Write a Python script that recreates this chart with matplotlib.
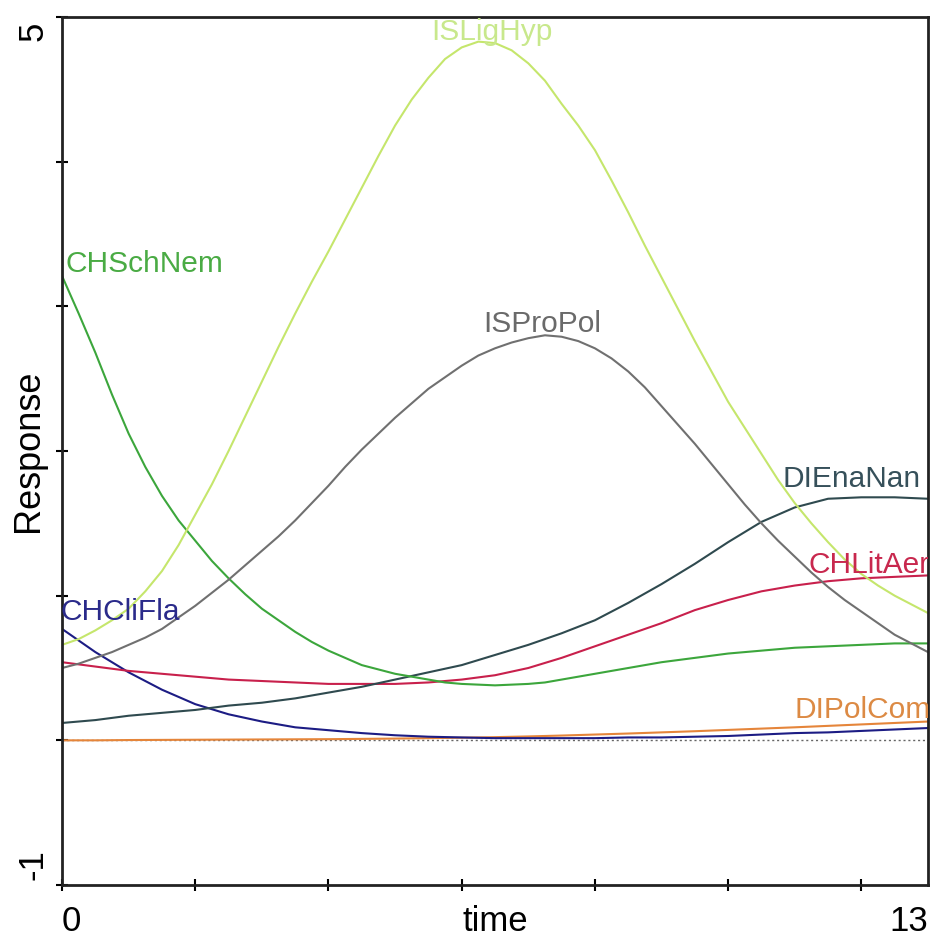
import matplotlib.pyplot as plt
import numpy as np

plt.rcParams['font.family'] = ['Liberation Sans', 'DejaVu Sans']

# time axes: quarter steps for the strongly curved responses, half steps for the rest
t_fine = np.arange(0, 13.001, 0.25)
t_half = np.arange(0, 13.001, 0.5)

ISLigHyp = [0.66, 0.70, 0.76, 0.83, 0.91, 1.03, 1.17, 1.35, 1.56, 1.77,
            2.00, 2.24, 2.48, 2.72, 2.95, 3.17, 3.38, 3.60, 3.82, 4.04,
            4.25, 4.43, 4.58, 4.71, 4.79, 4.83, 4.82, 4.77, 4.68, 4.56,
            4.40, 4.25, 4.08, 3.87, 3.65, 3.42, 3.20, 2.98, 2.76, 2.55,
            2.34, 2.16, 1.98, 1.80, 1.64, 1.50, 1.37, 1.25, 1.15, 1.07,
            1.00, 0.94, 0.88]
ISProPol = [0.50, 0.53, 0.57, 0.61, 0.66, 0.71, 0.77, 0.85, 0.93, 1.02,
            1.11, 1.21, 1.31, 1.41, 1.52, 1.64, 1.76, 1.89, 2.01, 2.12,
            2.23, 2.33, 2.43, 2.51, 2.59, 2.66, 2.71, 2.75, 2.78, 2.80,
            2.79, 2.76, 2.71, 2.64, 2.55, 2.44, 2.31, 2.18, 2.05, 1.91,
            1.77, 1.63, 1.50, 1.38, 1.27, 1.16, 1.06, 0.97, 0.89, 0.81,
            0.73, 0.67, 0.61]
CHSchNem = [3.21, 2.95, 2.68, 2.39, 2.12, 1.89, 1.69, 1.52, 1.38, 1.24,
            1.12, 1.01, 0.91, 0.83, 0.75, 0.68, 0.62, 0.57, 0.52, 0.49,
            0.46, 0.44, 0.42, 0.40, 0.39, 0.385, 0.38, 0.385, 0.39, 0.40,
            0.42, 0.44, 0.46, 0.48, 0.50, 0.52, 0.54, 0.555, 0.57, 0.585,
            0.60, 0.61, 0.62, 0.63, 0.64, 0.645, 0.65, 0.655, 0.66, 0.665,
            0.67, 0.67, 0.67]
DIEnaNan = [0.12, 0.14, 0.17, 0.19, 0.21, 0.24, 0.26, 0.29, 0.33, 0.37, 0.42, 0.47, 0.52,
            0.59, 0.66, 0.74, 0.83, 0.95, 1.08, 1.22, 1.37, 1.51, 1.61, 1.67, 1.68, 1.68, 1.67]
CHLitAer = [0.54, 0.51, 0.48, 0.46, 0.44, 0.42, 0.41, 0.40, 0.39, 0.39, 0.39, 0.40, 0.42,
            0.45, 0.50, 0.57, 0.65, 0.73, 0.81, 0.90, 0.97, 1.03, 1.07, 1.10, 1.12, 1.13, 1.14]
CHCliFla = [0.77, 0.61, 0.47, 0.35, 0.25, 0.18, 0.13, 0.09, 0.07, 0.05, 0.035, 0.025, 0.02,
            0.015, 0.015, 0.015, 0.015, 0.02, 0.02, 0.025, 0.03, 0.04, 0.05, 0.055, 0.065, 0.075, 0.085]
DIPolCom = [0.0, 0.0, 0.002, 0.003, 0.004, 0.005, 0.006, 0.007, 0.008, 0.01, 0.012, 0.015, 0.018,
            0.022, 0.027, 0.033, 0.04, 0.047, 0.055, 0.063, 0.072, 0.081, 0.09, 0.1, 0.11, 0.12, 0.13]

series = [('DIPolCom', t_half, DIPolCom), ('CHCliFla', t_half, CHCliFla),
          ('CHLitAer', t_half, CHLitAer), ('DIEnaNan', t_half, DIEnaNan),
          ('CHSchNem', t_fine, CHSchNem), ('ISProPol', t_fine, ISProPol),
          ('ISLigHyp', t_fine, ISLigHyp)]
colors = {'ISLigHyp': '#c5e66c', 'ISProPol': '#707070', 'CHSchNem': '#3ca63c', 'DIEnaNan': '#2f4a4f',
          'CHLitAer': '#c8204c', 'CHCliFla': '#1c1c84', 'DIPolCom': '#e5853a'}
label_colors = {'ISLigHyp': '#c8e88c', 'ISProPol': '#6a6a6a', 'CHSchNem': '#4aab44', 'DIEnaNan': '#36505a',
                'CHLitAer': '#c8284e', 'CHCliFla': '#2a2a8a', 'DIPolCom': '#dc8a44'}
# label anchors (left edge, baseline) in data units
label_pos = {'ISLigHyp': (5.55, 4.84), 'CHSchNem': (0.05, 3.24), 'ISProPol': (6.32, 2.82),
             'DIEnaNan': (10.82, 1.75), 'CHLitAer': (11.2, 1.16), 'CHCliFla': (-0.02, 0.83),
             'DIPolCom': (10.99, 0.155)}

fig = plt.figure(figsize=(9.33, 9.36), dpi=100)
ax = fig.add_axes([0.0665, 0.0545, 0.9281, 0.9273])

ax.plot([0, 13], [0, 0], color='#666666', linestyle=(0, (1.5, 2.0)), linewidth=1.0, zorder=1)
for name, t, vals in series:
    ax.plot(t, vals, color=colors[name], linewidth=1.5, zorder=2)
    lx, ly = label_pos[name]
    ax.text(lx, ly, name, color=label_colors[name], fontsize=21.5, ha='left', va='baseline',
            clip_on=True, zorder=3)

ax.set_xlim(0, 13)
ax.set_ylim(-1, 5)
ax.set_xticks(range(0, 13, 2))
ax.set_yticks(range(-1, 6))
ax.set_xticklabels([])
ax.set_yticklabels([])
ax.tick_params(direction='inout', length=9, width=1.5, color='black')
for sp in ax.spines.values():
    sp.set_linewidth(2)
    sp.set_color('#222222')

# axis texts
ax.annotate('0', xy=(0, 0), xycoords='axes fraction', xytext=(0, -33), textcoords='offset points',
            ha='left', va='baseline', fontsize=25)
ax.annotate('13', xy=(1, 0), xycoords='axes fraction', xytext=(0, -33), textcoords='offset points',
            ha='right', va='baseline', fontsize=25)
ax.annotate('time', xy=(0.5, 0), xycoords='axes fraction', xytext=(0, -33), textcoords='offset points',
            ha='center', va='baseline', fontsize=25)
ax.annotate('5', xy=(0, 1), xycoords='axes fraction', xytext=(-14, -3.5), textcoords='offset points',
            ha='right', va='baseline', rotation=90, rotation_mode='anchor', fontsize=25)
ax.annotate('-1', xy=(0, 0), xycoords='axes fraction', xytext=(-14, 3.5), textcoords='offset points',
            ha='left', va='baseline', rotation=90, rotation_mode='anchor', fontsize=25)
ax.annotate('Response', xy=(0, 0.5), xycoords='axes fraction', xytext=(-17, 0), textcoords='offset points',
            ha='center', va='baseline', rotation=90, rotation_mode='anchor', fontsize=26)

fig.savefig('out.png', dpi=100)
